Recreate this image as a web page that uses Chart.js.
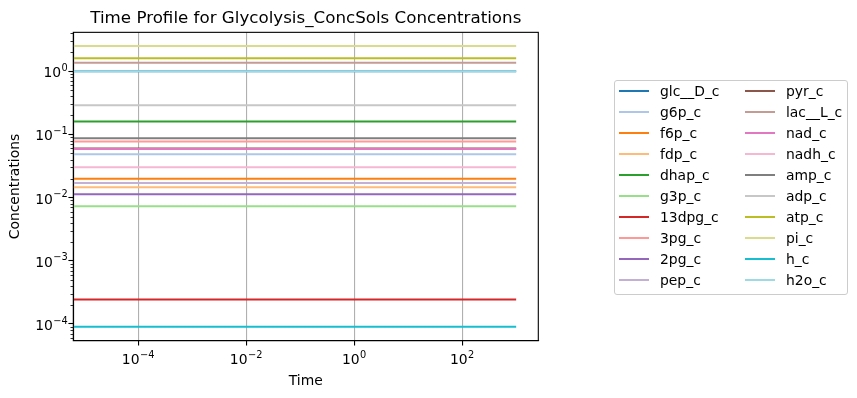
<!DOCTYPE html>
<html>
<head>
<meta charset="utf-8">
<script src="https://cdn.jsdelivr.net/npm/chart.js@4.4.1/dist/chart.umd.min.js"></script>
<style>
  body { margin: 0; background: #fff; font-family: "DejaVu Sans", sans-serif; }
  #wrap { position: relative; width: 857px; height: 398px; }
  #legend {
    position: absolute; left: 614px; top: 80px; width: 232px; height: 213px;
    border: 1px solid #cccccc; border-radius: 3px; background: rgba(255,255,255,0.8);
  }
  .item { position: absolute; height: 20px; line-height: 20px; font-size: 13.9px; color: #000; white-space: nowrap; }
  .item span.h { position: absolute; left: 0; top: 9px; width: 30px; height: 2px; }
  .item span.t { position: absolute; left: 41px; top: 0; }
</style>
</head>
<body>
<div id="wrap">
  <canvas id="chart" width="857" height="398"></canvas>
  <div id="legend"></div>
</div>
<script>
// species and their (constant) concentrations over the simulation
const species = ['glc__D_c', 'g6p_c', 'f6p_c', 'fdp_c', 'dhap_c', 'g3p_c', '13dpg_c', '3pg_c', '2pg_c', 'pep_c',
                 'pyr_c', 'lac__L_c', 'nad_c', 'nadh_c', 'amp_c', 'adp_c', 'atp_c', 'pi_c', 'h_c', 'h2o_c'];
const concentrations = [1.0, 0.0486, 0.0198, 0.0146, 0.16, 0.00728, 0.000243, 0.0773, 0.0113, 0.017,
                        0.06, 1.36, 0.0589, 0.0301, 0.0867, 0.29, 1.6, 2.5, 0.0000899, 1.0];
const times = [1e-6, 1000];
const colors = ['#1f77b4', '#aec7e8', '#ff7f0e', '#ffbb78', '#2ca02c', '#98df8a', '#d62728', '#ff9896', '#9467bd', '#c5b0d5',
                '#8c564b', '#c49c94', '#e377c2', '#f7b6d2', '#7f7f7f', '#c7c7c7', '#bcbd22', '#dbdb8d', '#17becf', '#9edae5'];
// tick labels are 10^exp
const xTicks = [1e-4, 1e-2, 1, 100];
const xTickExps = ['−4', '−2', '0', '2'];
const yTicks = [1e-4, 1e-3, 1e-2, 1e-1, 1];
const yTickExps = ['−4', '−3', '−2', '−1', '0'];

const FONT = "'DejaVu Sans', sans-serif";
const BASE_SIZE = 13.9, EXP_SIZE = 9.8;

const datasets = species.map((name, i) => ({
    label: name,
    data: times.map(t => ({ x: t, y: concentrations[i] })),
    borderColor: colors[i],
    backgroundColor: colors[i],
    borderWidth: 2,
    pointRadius: 0,
    fill: false,
    order: species.length - i
}));

function powLabel(ctx, exp, x, baseline, align) {
    ctx.font = BASE_SIZE + 'px ' + FONT;
    const wb = ctx.measureText('10').width;
    ctx.font = EXP_SIZE + 'px ' + FONT;
    const we = ctx.measureText(exp).width;
    const w = wb + we + 0.5;
    let x0 = align === 'right' ? x - w : x - w / 2;
    ctx.textAlign = 'left';
    ctx.textBaseline = 'alphabetic';
    ctx.font = BASE_SIZE + 'px ' + FONT;
    ctx.fillText('10', x0, baseline);
    ctx.font = EXP_SIZE + 'px ' + FONT;
    ctx.fillText(exp, x0 + wb + 0.5, baseline - 6.3);
}

// frame, minor ticks on the y axis and 10^n tick labels
const framePlugin = {
    id: 'frame',
    afterDraw(chart) {
        const { ctx, chartArea: a } = chart;
        const x = chart.scales.x, y = chart.scales.y;
        ctx.save();
        ctx.strokeStyle = '#000';
        ctx.lineWidth = 0.8;
        for (let n = -5; n <= 0; n++) {
            for (let k = 2; k <= 9; k++) {
                const v = k * Math.pow(10, n);
                if (v < y.min || v > y.max) continue;
                const py = Math.round(y.getPixelForValue(v)) + 0.5;
                ctx.beginPath();
                ctx.moveTo(a.left - 2.8, py);
                ctx.lineTo(a.left, py);
                ctx.stroke();
            }
        }
        ctx.lineWidth = 1.1;
        ctx.strokeRect(a.left, a.top, a.right - a.left, a.bottom - a.top);
        ctx.fillStyle = '#000';
        xTicks.forEach((v, i) => powLabel(ctx, xTickExps[i], x.getPixelForValue(v), a.bottom + 23.5, 'center'));
        yTicks.forEach((v, i) => powLabel(ctx, yTickExps[i], a.left - 5.5, y.getPixelForValue(v) + 6, 'right'));
        ctx.restore();
    }
};

new Chart(document.getElementById('chart'), {
    type: 'line',
    data: { datasets },
    options: {
        responsive: false,
        animation: false,
        devicePixelRatio: 1,
        layout: { padding: { left: 0, top: 0, right: 318.7, bottom: 0 } },
        plugins: {
            legend: { display: false },
            tooltip: { enabled: false },
            title: {
                display: true,
                fullSize: false,
                text: 'Time Profile for Glycolysis_ConcSols Concentrations',
                color: '#000',
                font: { family: FONT, size: 16.7, weight: 'normal' },
                padding: { top: 9, bottom: 3.3 }
            }
        },
        scales: {
            x: {
                type: 'logarithmic',
                min: 6.31e-6,
                max: 2570,
                afterBuildTicks: s => { s.ticks = xTicks.map(v => ({ value: v })); },
                afterFit: s => { s.height = 57.3; },
                ticks: { font: { family: FONT, size: 13.9 }, maxRotation: 0, autoSkip: false, callback: () => '' },
                grid: { color: '#b0b0b0', lineWidth: 1.1, tickColor: '#000', tickLength: 4.9, tickWidth: 1.1 },
                border: { display: true, color: '#000', width: 1.1 },
                title: { display: true, text: 'Time', color: '#000', font: { family: FONT, size: 13.9 }, padding: { top: 0, bottom: 8 } }
            },
            y: {
                type: 'logarithmic',
                min: 5.43e-5,
                max: 4.13,
                afterBuildTicks: s => { s.ticks = yTicks.map(v => ({ value: v })); },
                afterFit: s => { s.width = 73.3; },
                ticks: { font: { family: FONT, size: 13.9 }, autoSkip: false, callback: () => '' },
                grid: { drawOnChartArea: false, tickColor: '#000', tickLength: 4.9, tickWidth: 1.1 },
                border: { display: true, color: '#000', width: 1.1 },
                title: { display: true, text: 'Concentrations', color: '#000', font: { family: FONT, size: 13.9 }, padding: { top: 7, bottom: 0 } }
            }
        }
    },
    plugins: [framePlugin]
});

// legend: two columns of ten
const legend = document.getElementById('legend');
species.forEach((name, i) => {
    const col = Math.floor(i / 10), row = i % 10;
    const item = document.createElement('div');
    item.className = 'item';
    item.style.left = (4 + col * 126) + 'px';
    item.style.top = (row * 21) + 'px';
    item.innerHTML = '<span class="h" style="background:' + colors[i] + '"></span><span class="t">' + name + '</span>';
    legend.appendChild(item);
});
</script>
</body>
</html>
